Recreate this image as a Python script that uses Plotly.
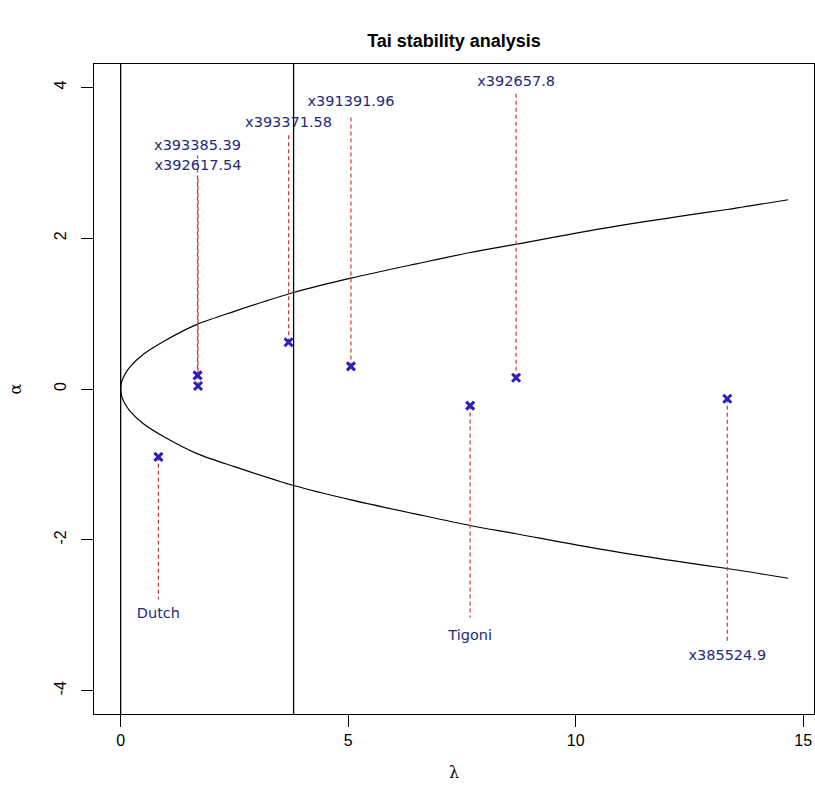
import plotly.graph_objects as go

# Stability curve (upper and lower branches)
curve_lambda = [0, 0.02, 0.08, 0.2, 0.5, 1.0, 1.69, 2.5, 3.8, 5.06, 6.5, 7.68, 8.69, 10.5, 12.5, 13.33, 14.67]
curve_upper = [0, 0.09, 0.18, 0.29, 0.46, 0.65, 0.86, 1.03, 1.28, 1.47, 1.66, 1.81, 1.92, 2.12, 2.31, 2.38, 2.51]
curve_lower = [0, -0.09, -0.18, -0.29, -0.46, -0.65, -0.86, -1.03, -1.28, -1.47, -1.66, -1.81, -1.92, -2.12, -2.31, -2.38, -2.51]

# Vertical reference lines
vlines = [0.0, 3.80]

# Genotype points
names = ["Dutch", "x393385.39", "x392617.54", "x393371.58", "x391391.96", "Tigoni", "x392657.8", "x385524.9"]
lam = [0.83, 1.69, 1.70, 3.69, 5.06, 7.68, 8.69, 13.33]
alpha = [-0.90, 0.18, 0.04, 0.62, 0.30, -0.22, 0.15, -0.13]
seg_end = [-2.79, 3.10, 2.82, 3.37, 3.61, -3.03, 3.93, -3.36]
label_y = [-2.99, 3.22, 2.95, 3.52, 3.80, -3.28, 4.07, -3.55]

x_ticks = [0, 5, 10, 15]
y_ticks = [-4, -2, 0, 2, 4]

fig = go.Figure()

# curve
fig.add_trace(go.Scatter(x=curve_lambda, y=curve_upper, mode="lines",
                         line=dict(color="black", width=1.2, shape="spline", smoothing=0.8),
                         hoverinfo="skip", showlegend=False))
fig.add_trace(go.Scatter(x=curve_lambda, y=curve_lower, mode="lines",
                         line=dict(color="black", width=1.2, shape="spline", smoothing=0.8),
                         hoverinfo="skip", showlegend=False))

for v in vlines:
    fig.add_vline(x=v, line=dict(color="black", width=1.3))

# dashed red segments
for xi, yi, ye in zip(lam, alpha, seg_end):
    fig.add_trace(go.Scatter(x=[xi, xi], y=[yi, ye], mode="lines",
                             line=dict(color="#c83a3a", width=1.2, dash="4px,3px"),
                             hoverinfo="skip", showlegend=False))

# points
fig.add_trace(go.Scatter(x=lam, y=alpha, mode="markers",
                         marker=dict(symbol="x-thin", size=8,
                                     line=dict(color="#2a1fb8", width=3)),
                         text=names, showlegend=False))

# labels
fig.add_trace(go.Scatter(x=lam, y=label_y, mode="text", text=names,
                         textposition="middle center",
                         textfont=dict(family="DejaVu Sans", size=14.5, color="#1e2a7c"),
                         hoverinfo="skip", showlegend=False))

fig.update_layout(
    width=815, height=812,
    margin=dict(l=94, r=1, t=64, b=98),
    paper_bgcolor="white", plot_bgcolor="white",
    title=dict(text="<b>Tai stability analysis</b>", x=0.5, xref="paper",
               y=1 - 41 / 812, yref="container", xanchor="center", yanchor="middle",
               font=dict(family="Liberation Sans", size=18, color="black")),
    font=dict(family="Liberation Sans", color="black"),
)

fig.update_xaxes(range=[-0.586, 15.236], tickvals=x_ticks, ticktext=[str(t) for t in x_ticks],
                 showgrid=False, zeroline=False, showline=True, mirror=True,
                 linecolor="black", linewidth=1.3, ticks="outside", ticklen=12,
                 tickcolor="black", tickwidth=1.3,
                 tickfont=dict(family="Liberation Sans", size=16),
                 title=dict(text="λ", font=dict(family="DejaVu Serif", size=16), standoff=18))
fig.update_yaxes(range=[-4.31, 4.31], tickvals=y_ticks, ticktext=[str(t) for t in y_ticks],
                 showgrid=False, zeroline=False, showline=True, mirror=True,
                 linecolor="black", linewidth=1.3, ticks="outside", ticklen=12,
                 tickcolor="black", tickwidth=1.3, tickangle=-90,
                 tickfont=dict(family="Liberation Sans", size=16),
                 ticklabelstandoff=8,
                 title=dict(text="α", font=dict(family="DejaVu Serif", size=16), standoff=26))

fig.write_html("out.html")
